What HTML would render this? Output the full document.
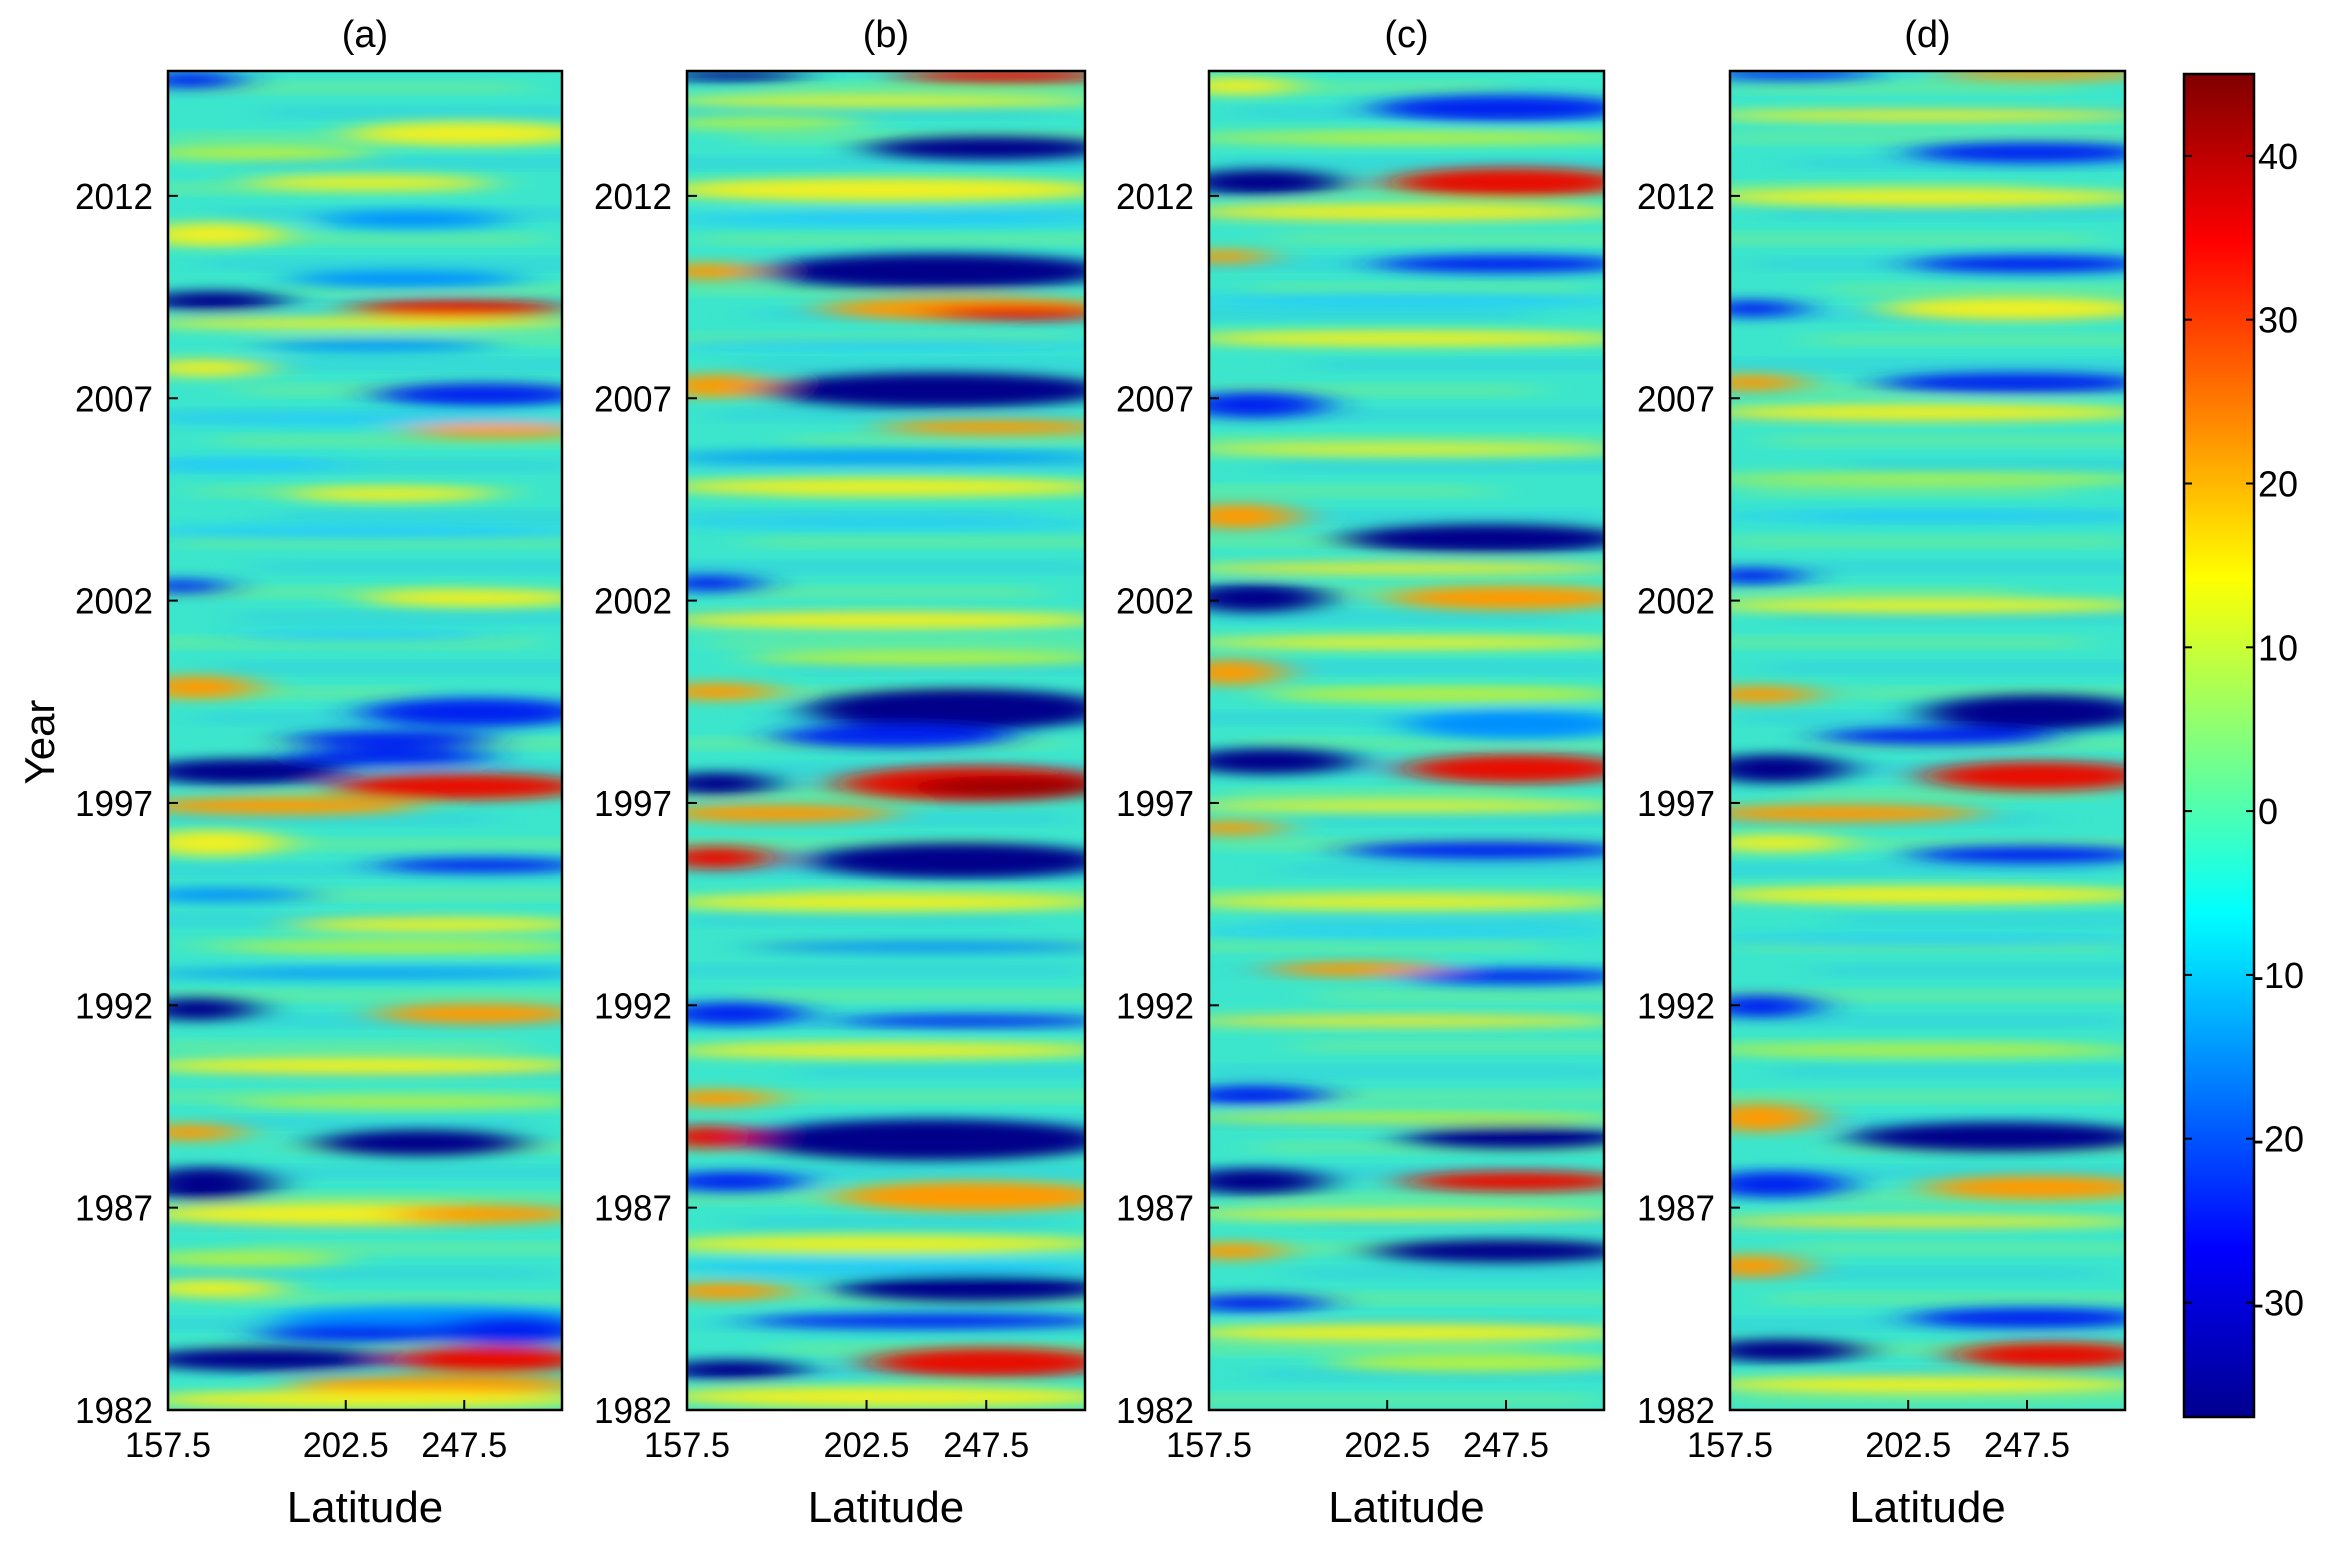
<!DOCTYPE html>
<html><head><meta charset="utf-8"><style>
html,body{margin:0;padding:0;background:#fff;}
body{width:2327px;height:1545px;position:relative;overflow:hidden;font-family:"Liberation Sans",sans-serif;color:#111;}
</style></head><body>
<svg id="s" width="2327" height="1545" viewBox="0 0 2327 1545" xmlns="http://www.w3.org/2000/svg" style="position:absolute;left:0;top:0"></svg>
<script>
(function(){
const S=document.getElementById('s');
const C={db:'#00008a',b:'#0020f0',lb:'#0090ff',sb:'#20c8ff',y:'#f0f020',yg:'#b8f040',o:'#ff9a00',r:'#e81000',dr:'#9a0000'};
const panels=[
 {x:168,w:394,title:'(a)',s:[
  [0,30,6,6,'b'],[140,266,42,8,'y'],[0,120,55,5,'yg'],[70,200,75,5,'y'],[120,210,100,6,'lb'],[0,60,110,8,'y'],
  [100,220,140,6,'lb'],[0,60,155,7,'db'],[140,250,160,6,'r'],[0,266,170,4,'y'],[80,200,185,4,'lb'],[0,50,200,6,'y'],
  [160,266,218,8,'b'],[0,266,235,3,'sb'],[180,266,242,5,'o'],[0,100,265,4,'sb'],[100,200,285,5,'y'],[0,266,310,4,'sb'],
  [0,20,347,5,'b'],[150,266,355,6,'y'],[60,200,380,3,'sb'],[0,40,415,8,'o'],[150,266,432,10,'b'],[100,200,450,6,'b'],
  [0,100,472,9,'db'],[100,200,462,6,'b'],[130,266,482,9,'r'],[0,150,495,6,'o'],[0,60,520,9,'y'],[160,266,535,5,'b'],
  [0,80,555,5,'lb'],[100,266,575,5,'y'],[60,266,590,4,'yg'],[0,266,608,3,'lb'],[0,40,632,8,'db'],[160,260,635,7,'o'],
  [0,266,670,6,'y'],[60,266,695,4,'yg'],[0,30,715,6,'o'],[120,220,722,9,'db'],[0,50,750,12,'db'],[0,266,770,8,'y'],
  [170,260,770,6,'o'],[0,100,800,5,'yg'],[0,60,820,6,'y'],[90,266,840,8,'lb'],[200,266,848,10,'b'],[0,130,868,8,'db'],
  [80,180,850,6,'b'],[170,266,868,9,'r'],[100,266,885,6,'o'],[0,266,895,6,'y']]},
 {x:687,w:398,title:'(b)',s:[
  [0,60,3,4,'db'],[160,268,3,5,'r'],[0,268,20,4,'y'],[0,100,35,4,'yg'],[140,268,52,8,'db'],[0,268,80,8,'y'],[0,268,100,4,'sb'],
  [0,30,135,6,'o'],[70,268,135,12,'db'],[110,268,160,8,'o'],[180,268,163,5,'r'],[0,268,185,3,'sb'],[0,40,212,8,'o'],
  [70,268,215,12,'db'],[150,268,240,5,'o'],[0,268,260,4,'lb'],[0,268,280,6,'y'],[0,268,305,3,'sb'],[0,30,345,6,'b'],
  [0,268,370,6,'y'],[60,268,395,5,'yg'],[0,40,418,6,'o'],[100,268,430,14,'db'],[80,200,448,8,'b'],[0,40,480,8,'db'],
  [120,268,480,12,'r'],[170,268,482,7,'dr'],[0,120,500,6,'o'],[0,40,530,8,'r'],[100,268,532,12,'db'],[0,268,560,6,'y'],
  [60,268,590,4,'lb'],[0,60,635,8,'b'],[120,268,640,4,'b'],[0,268,660,5,'y'],[0,40,692,6,'o'],[0,30,718,8,'r'],
  [60,268,720,14,'db'],[0,60,748,7,'b'],[120,268,758,10,'o'],[0,268,790,6,'y'],[0,268,805,4,'sb'],[120,268,820,9,'db'],
  [0,50,822,6,'o'],[60,268,842,5,'b'],[140,268,870,10,'r'],[0,60,875,7,'db'],[0,268,893,7,'y']]},
 {x:1209,w:395,title:'(c)',s:[
  [0,40,10,6,'y'],[130,266,25,9,'b'],[0,266,45,4,'yg'],[0,70,75,9,'db'],[140,266,75,10,'r'],[0,266,95,6,'y'],
  [0,20,125,5,'o'],[130,266,130,6,'b'],[0,266,155,4,'sb'],[0,266,180,5,'y'],[0,60,225,9,'b'],[0,266,255,4,'y'],
  [0,40,300,9,'o'],[110,266,315,10,'db'],[0,266,335,4,'y'],[0,60,355,10,'db'],[140,266,355,8,'o'],[0,266,385,4,'y'],
  [0,30,405,9,'o'],[60,266,420,5,'yg'],[150,266,440,10,'lb'],[0,80,465,9,'db'],[150,266,470,10,'r'],[0,266,495,4,'y'],
  [0,30,510,5,'o'],[110,266,525,6,'b'],[0,266,560,5,'y'],[0,266,580,3,'sb'],[60,140,605,5,'o'],[150,266,610,5,'b'],
  [0,266,640,4,'y'],[0,60,690,7,'b'],[0,266,705,4,'yg'],[150,266,718,8,'db'],[0,60,748,9,'db'],[150,266,748,7,'r'],
  [0,266,770,4,'y'],[0,30,795,6,'o'],[130,266,795,8,'db'],[0,60,830,6,'b'],[0,266,850,6,'y'],[100,266,870,6,'yg']]},
 {x:1730,w:395,title:'(d)',s:[
  [0,80,2,4,'b'],[160,266,2,4,'o'],[0,266,30,4,'y'],[140,266,55,7,'b'],[0,266,85,6,'y'],[140,266,130,6,'b'],
  [0,30,160,6,'b'],[120,266,160,8,'y'],[0,30,210,6,'o'],[120,266,210,7,'b'],[0,266,230,6,'y'],[0,266,275,4,'yg'],
  [0,266,300,3,'sb'],[0,30,340,6,'b'],[0,266,360,5,'y'],[0,40,420,6,'o'],[150,266,432,12,'db'],[80,200,448,6,'b'],
  [0,60,470,10,'db'],[150,266,475,10,'r'],[180,266,473,6,'r'],[0,150,500,6,'o'],[0,60,520,6,'y'],[140,266,528,6,'b'],
  [0,266,555,6,'y'],[0,266,585,3,'sb'],[0,40,630,8,'b'],[0,266,660,4,'yg'],[0,40,705,10,'o'],[100,266,718,10,'db'],
  [0,60,750,9,'b'],[150,266,752,8,'o'],[0,266,775,4,'y'],[0,30,805,8,'o'],[140,266,840,7,'b'],[0,70,862,8,'db'],
  [170,266,865,9,'r'],[0,266,885,6,'y']]}
];
let h='<defs><filter id="bl" x="-30%" y="-50%" width="160%" height="200%"><feGaussianBlur stdDeviation="16 4"/></filter>'+
'<linearGradient id="jet" x1="0" y1="1" x2="0" y2="0"><stop offset="0" stop-color="#00008f"/><stop offset="0.125" stop-color="#0000ff"/><stop offset="0.375" stop-color="#00ffff"/><stop offset="0.625" stop-color="#ffff00"/><stop offset="0.875" stop-color="#ff0000"/><stop offset="1" stop-color="#800000"/></linearGradient>';
panels.forEach(function(p,i){h+='<clipPath id="c'+i+'"><rect x="0" y="0" width="'+(p.x==687?268:266)+'" height="902"/></clipPath>';});
h+='</defs>';
const TOP=71,BOT=1410;
panels.forEach(function(p,i){
 const vw=(p.x==687?268:266);
 h+='<svg x="'+p.x+'" y="'+TOP+'" width="'+p.w+'" height="'+(BOT-TOP)+'" viewBox="0 0 '+vw+' 902" preserveAspectRatio="none"><g clip-path="url(#c'+i+')"><rect width="'+vw+'" height="902" fill="#3ce6cc"/>';
 let k=0;
 for(let y=8;y<902;y+=17){k++;const x0=((k*53+i*37)%120)-40;
  h+='<rect x="'+x0+'" y="'+y+'" width="'+(200+(k*29)%120)+'" height="6" fill="'+(k%2?'#90f070':'#28c0ee')+'" opacity="0.55" filter="url(#bl)"/>';}
 h+='<g filter="url(#bl)">';
 p.s.forEach(function(a){h+='<ellipse cx="'+((a[0]+a[1])/2)+'" cy="'+a[2]+'" rx="'+((a[1]-a[0])/2+20)+'" ry="'+a[3]+'" fill="'+C[a[4]]+'"/>';});
 h+='</g></g></svg>';
 h+='<rect x="'+p.x+'" y="'+TOP+'" width="'+p.w+'" height="'+(BOT-TOP)+'" fill="none" stroke="#000" stroke-width="2.5"/>';
 const cx=p.x+p.w/2;
 h+='<text x="'+cx+'" y="47" font-size="38" text-anchor="middle" font-family="Liberation Sans">'+p.title+'</text>';
 h+='<text x="'+cx+'" y="1522" font-size="44" text-anchor="middle" font-family="Liberation Sans">Latitude</text>';
 [[157.5,0],[202.5,120],[247.5,200]].forEach(function(t){const xx=p.x+t[1]*p.w/266;
  h+='<text x="'+xx+'" y="1457" font-size="35" text-anchor="middle" font-family="Liberation Sans" textLength="86" lengthAdjust="spacingAndGlyphs">'+t[0]+'</text>';
  h+='<line x1="'+xx+'" y1="'+BOT+'" x2="'+xx+'" y2="'+(BOT-10)+'" stroke="#000" stroke-width="2"/>';});
 [2012,2007,2002,1997,1992,1987,1982].forEach(function(Y){const yy=BOT-(Y-1982)*40.47;
  h+='<text x="'+(p.x-15)+'" y="'+(yy+13)+'" font-size="36" text-anchor="end" font-family="Liberation Sans" textLength="78" lengthAdjust="spacingAndGlyphs">'+Y+'</text>';
  h+='<line x1="'+p.x+'" y1="'+yy+'" x2="'+(p.x+10)+'" y2="'+yy+'" stroke="#000" stroke-width="2"/>';});
});
h+='<text transform="translate(54,742) rotate(-90)" font-size="42" text-anchor="middle" font-family="Liberation Sans">Year</text>';
h+='<rect x="2184" y="74" width="70" height="1343" fill="url(#jet)" stroke="#000" stroke-width="2.5"/>';
[40,30,20,10,0,-10,-20,-30].forEach(function(v){const yy=74+(45-v)*16.38;
 h+='<line x1="2184" y1="'+yy+'" x2="2192" y2="'+yy+'" stroke="#000" stroke-width="2"/><line x1="2246" y1="'+yy+'" x2="2254" y2="'+yy+'" stroke="#000" stroke-width="2"/>';
 h+='<text x="'+(v<0?2252:2258)+'" y="'+(yy+13)+'" font-size="36" font-family="Liberation Sans">'+v+'</text>';});
S.innerHTML=h;
})();
</script>
</body></html>
